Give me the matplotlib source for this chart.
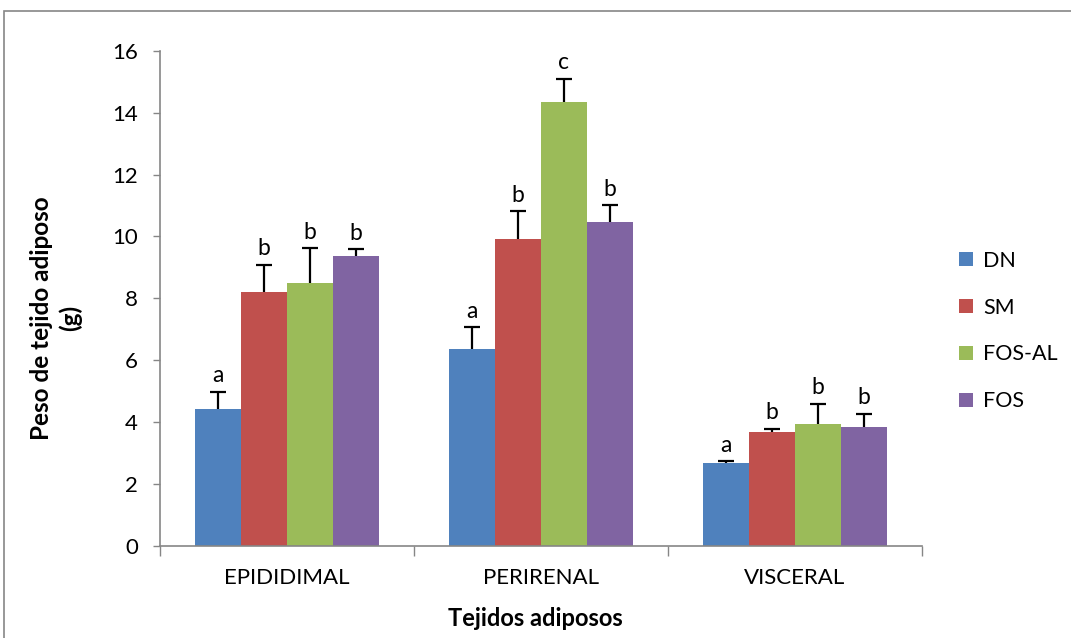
import matplotlib
matplotlib.use("Agg")
import matplotlib.pyplot as plt
import numpy as np
from matplotlib.patches import Rectangle

categories = ["EPIDIDIMAL", "PERIRENAL", "VISCERAL"]
series = ["DN", "SM", "FOS-AL", "FOS"]
dn = [4.44, 6.35, 2.69]
sm = [8.21, 9.91, 3.68]
fos_al = [8.51, 14.35, 3.94]
fos = [9.36, 10.46, 3.84]
dn_err = [0.55, 0.71, 0.05]
sm_err = [0.88, 0.90, 0.10]
fos_al_err = [1.11, 0.74, 0.66]
fos_err = [0.23, 0.54, 0.43]
dn_letters = ["a", "a", "a"]
sm_letters = ["b", "b", "b"]
fos_al_letters = ["b", "c", "b"]
fos_letters = ["b", "b", "b"]
y_ticks = [0, 2, 4, 6, 8, 10, 12, 14, 16]

values = [dn, sm, fos_al, fos]
errors = [dn_err, sm_err, fos_al_err, fos_err]
letters = [dn_letters, sm_letters, fos_al_letters, fos_letters]
colors = ["#4F81BD", "#C0504D", "#9BBB59", "#8064A2"]

plt.rcParams['font.family'] = ['Lato', 'DejaVu Sans']

W, H = 1071, 638
fig = plt.figure(figsize=(W / 100, H / 100), dpi=100)
ax = fig.add_axes([160 / W, (H - 546) / H, (922 - 160) / W, (546 - 50.7) / H])

x = np.arange(len(categories))
bw = 0.181
gray = "#868686"
for i, (vals, errs, lets, c, name) in enumerate(zip(values, errors, letters, colors, series)):
    pos = x + (i - 1.5) * bw
    vals = np.asarray(vals)
    errs = np.asarray(errs)
    ax.bar(pos, vals, width=bw, color=c, label=name, zorder=2)
    ax.errorbar(pos, vals, yerr=[np.zeros(len(vals)), errs], fmt='none',
                ecolor='black', elinewidth=1.6, capsize=0, zorder=3)
    ax.plot(pos, vals + errs, ls='none', marker='_', ms=11, mew=1.6, color='black', zorder=3)
    for p, v, e, l in zip(pos, vals, errs, lets):
        ax.annotate(l, (p, v + e), xytext=(0, 4), textcoords='offset points',
                    ha='center', va='bottom', fontsize=16.5)

ax.set_xlim(-0.5, 2.5)
ax.set_ylim(0, 16)
ax.set_yticks(y_ticks)
ax.set_yticklabels([str(t) for t in y_ticks])
ax.set_xticks([-0.5, 0.5, 1.5, 2.5])
ax.set_xticklabels([])
ax.set_xticks(x, minor=True)
ax.set_xticklabels(categories, minor=True)
ax.tick_params(axis='x', which='major', length=7, color=gray, width=1)
ax.tick_params(axis='x', which='minor', length=0, pad=16, labelsize=16)
ax.tick_params(axis='y', length=5, color=gray, width=1, pad=11, labelsize=16)
for s in ['top', 'right']:
    ax.spines[s].set_visible(False)
for s in ['left', 'bottom']:
    ax.spines[s].set_color(gray)
    ax.spines[s].set_linewidth(1.2)

fig.text(56 / W, 1 - 318 / H, "Peso de tejido adiposo\n(g)", rotation=90,
         ha='center', va='center', fontsize=17.5, fontweight='bold', linespacing=1.3)
fig.text(535 / W, 1 - 619 / H, "Tejidos adiposos", ha='center', va='center',
         fontsize=17, fontweight='bold')

leg = fig.legend(loc='upper left', bbox_to_anchor=(950 / W, 1 - 242 / H), frameon=False,
                 fontsize=15.5, handlelength=0.65, handleheight=0.65, handletextpad=0.5,
                 labelspacing=1.25, borderaxespad=0)

fig.add_artist(Rectangle((4 / W, -0.1), 1.2, (H - 11) / H + 0.1, transform=fig.transFigure,
                         fill=False, edgecolor=gray, linewidth=1.2))

fig.savefig("out.png", dpi=100)
